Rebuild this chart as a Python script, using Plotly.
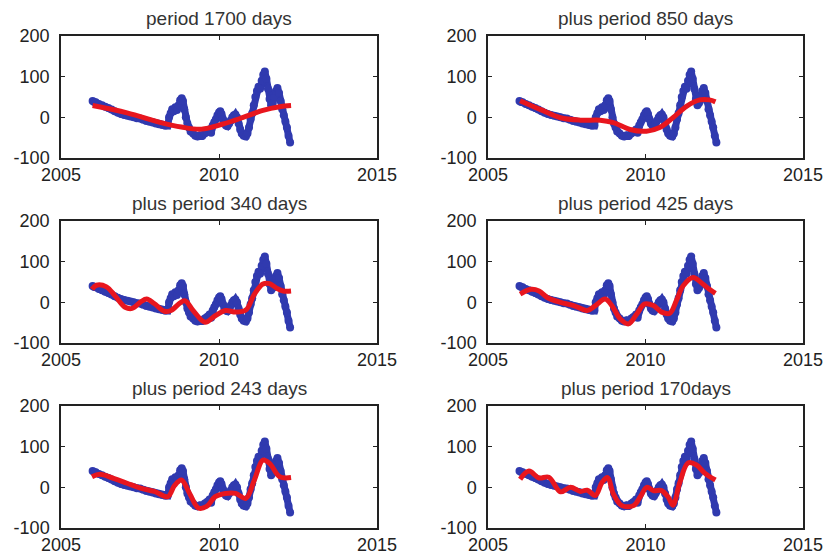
import plotly.graph_objects as go

# Observed series (blue), shared by every panel
obs_years = [2006.00, 2006.05, 2006.10, 2006.20, 2006.30, 2006.40, 2006.50, 2006.60, 2006.70, 2006.80,
             2006.90, 2007.00, 2007.10, 2007.20, 2007.30, 2007.40, 2007.50, 2007.60, 2007.70, 2007.80,
             2007.90, 2008.00, 2008.10, 2008.20, 2008.30, 2008.38, 2008.42, 2008.47, 2008.52, 2008.57,
             2008.62, 2008.67, 2008.72, 2008.77, 2008.82, 2008.86, 2008.90, 2008.95, 2009.00, 2009.05,
             2009.10, 2009.18, 2009.25, 2009.32, 2009.40, 2009.47, 2009.55, 2009.62, 2009.70, 2009.75,
             2009.80, 2009.85, 2009.90, 2009.95, 2010.00, 2010.04, 2010.08, 2010.12, 2010.17, 2010.22,
             2010.27, 2010.32, 2010.37, 2010.42, 2010.47, 2010.52, 2010.57, 2010.62, 2010.67, 2010.72,
             2010.78, 2010.85, 2010.90, 2010.95, 2011.00, 2011.05, 2011.10, 2011.15, 2011.20, 2011.25,
             2011.30, 2011.35, 2011.40, 2011.45, 2011.50, 2011.55, 2011.60, 2011.65, 2011.70, 2011.75,
             2011.80, 2011.85, 2011.90, 2011.95, 2012.00, 2012.05, 2012.10, 2012.15, 2012.20, 2012.25]
obs_values = [40, 38, 37, 33, 30, 26, 23, 19, 15, 11,
              8, 6, 4, 2, 0, -2, -3, -6, -9, -11,
              -13, -15, -17, -19, -21, -20, 0, 10, 20, 15,
              25, 18, 30, 42, 47, 40, 20, 0, -15, -25,
              -35, -40, -45, -47, -44, -46, -40, -36, -30, -38,
              -20, -12, -5, 5, 12, 15, 8, -5, -15, -20,
              -22, -15, -8, 0, 5, 7, 0, -15, -30, -40,
              -45, -47, -40, -25, -5, 10, 30, 50, 65, 75,
              70, 90, 105, 113, 95, 70, 45, 30, 35, 50,
              65, 72, 60, 40, 20, 5, -10, -25, -45, -62]

# Fitted curves (red)
fit1_years = [2006.0, 2007.09, 2008.16, 2008.81, 2009.45, 2010.1, 2010.74, 2011.39, 2011.92, 2012.28]
fit1_values = [29, 11, -13, -24, -29, -17, -1, 17, 26, 29]

fit2_years = [2006.02, 2006.67, 2007.3, 2007.93, 2008.56, 2008.98, 2009.51, 2010.03, 2010.45, 2010.87,
              2011.3, 2011.72, 2012.03, 2012.22]
fit2_values = [41, 19, -1, -7, -7, -13, -30, -34, -25, -1, 27, 43, 43, 38]

fit3_years = [2005.98, 2006.12, 2006.44, 2006.71, 2007.03, 2007.25, 2007.52, 2007.71, 2007.95, 2008.27,
              2008.48, 2008.91, 2009.18, 2009.56, 2009.88, 2010.2, 2010.53, 2010.85, 2011.12, 2011.39,
              2011.6, 2011.82, 2012.03, 2012.28]
fit3_values = [32, 42, 38, 16, -12, -15, 1, 8, -3, -22,
               -20, 4, -20, -49, -33, -20, -24, -19, 20, 45,
               46, 35, 28, 28]

fit4_years = [2006.02, 2006.36, 2006.62, 2006.88, 2007.3, 2007.72, 2008.15, 2008.41, 2008.72, 2008.93,
              2009.2, 2009.46, 2009.72, 2009.98, 2010.25, 2010.51, 2010.77, 2010.98, 2011.19, 2011.51,
              2011.82, 2012.03, 2012.22]
fit4_values = [20, 32, 28, 12, 0, -8, -20, -8, 8, -8,
               -41, -53, -29, -4, -8, -24, -27, 4, 40, 61,
               45, 32, 22]

fit5_years = [2005.98, 2006.23, 2006.66, 2007.09, 2007.52, 2007.95, 2008.38, 2008.59, 2008.81, 2009.07,
              2009.35, 2009.61, 2009.88, 2010.2, 2010.53, 2010.85, 2011.12, 2011.39, 2011.6, 2011.92,
              2012.28]
fit5_values = [26, 32, 22, 10, -2, -10, -23, 4, 18, -15,
               -51, -47, -23, -15, -15, -27, 18, 67, 59, 26,
               24]

fit6_years = [2006.02, 2006.3, 2006.62, 2006.93, 2007.3, 2007.62, 2007.93, 2008.15, 2008.41, 2008.62,
              2008.8, 2008.98, 2009.25, 2009.62, 2009.83, 2010.04, 2010.25, 2010.51, 2010.72, 2010.87,
              2011.09, 2011.35, 2011.62, 2011.88, 2012.22]
fit6_values = [20, 40, 23, 25, -11, 0, -10, -7, -20, 12,
               24, -16, -45, -45, -24, 0, -8, -8, -24, -44,
               12, 60, 55, 35, 18]

titles = ["period 1700 days", "plus period 850 days", "plus period 340 days",
          "plus period 425 days", "plus period 243 days", "plus period 170days"]
x_ticks = [2005, 2010, 2015]
y_ticks = [-100, 0, 100, 200]

fits = [(fit1_years, fit1_values), (fit2_years, fit2_values), (fit3_years, fit3_values),
        (fit4_years, fit4_values), (fit5_years, fit5_values), (fit6_years, fit6_values)]

W, H = 830, 556
col_px = [(61, 377), (488, 803)]
row_px = [(36, 158), (221, 343), (406, 528)]

BLUE = "rgb(48,58,175)"
RED = "rgb(232,22,30)"
FONT = "Liberation Sans"

fig = go.Figure()
annotations = []
for i in range(6):
    r, c = divmod(i, 2)
    n = "" if i == 0 else str(i + 1)
    x0, x1 = col_px[c]
    y0, y1 = row_px[r]
    xd = [x0 / W, x1 / W]
    yd = [1 - y1 / H, 1 - y0 / H]
    fig.add_trace(go.Scatter(x=obs_years, y=obs_values, mode="lines+markers",
                             line=dict(color=BLUE, width=7),
                             marker=dict(color=BLUE, size=8),
                             xaxis="x" + n, yaxis="y" + n, showlegend=False))
    fx, fy = fits[i]
    fig.add_trace(go.Scatter(x=fx, y=fy, mode="lines",
                             line=dict(color=RED, width=5, shape="spline", smoothing=1.0),
                             xaxis="x" + n, yaxis="y" + n, showlegend=False))
    axcommon = dict(showgrid=False, zeroline=False, showline=True, linecolor="#222",
                    linewidth=1.5, mirror="ticks", ticks="inside", ticklen=4,
                    tickcolor="#222", tickwidth=1, automargin=False,
                    tickfont=dict(family=FONT, size=18, color="#222"))
    fig.update_layout(**{
        "xaxis" + n: dict(domain=xd, range=[2005, 2015], tickvals=x_ticks,
                          ticktext=[str(t) for t in x_ticks], anchor="y" + n,
                          ticklabelstandoff=0, **axcommon),
        "yaxis" + n: dict(domain=yd, range=[-100, 200], tickvals=y_ticks,
                          ticktext=[str(t) for t in y_ticks], anchor="x" + n,
                          ticklabelstandoff=6, **axcommon),
    })
    annotations.append(dict(text=titles[i], x=(xd[0] + xd[1]) / 2, y=yd[1],
                            xref="paper", yref="paper", xanchor="center", yanchor="bottom",
                            yshift=5, showarrow=False,
                            font=dict(family=FONT, size=19, color="#333")))

fig.update_layout(template="none", width=W, height=H, margin=dict(l=0, r=0, t=0, b=0),
                  paper_bgcolor="white", plot_bgcolor="white",
                  annotations=annotations)
fig.write_html("out.html")
